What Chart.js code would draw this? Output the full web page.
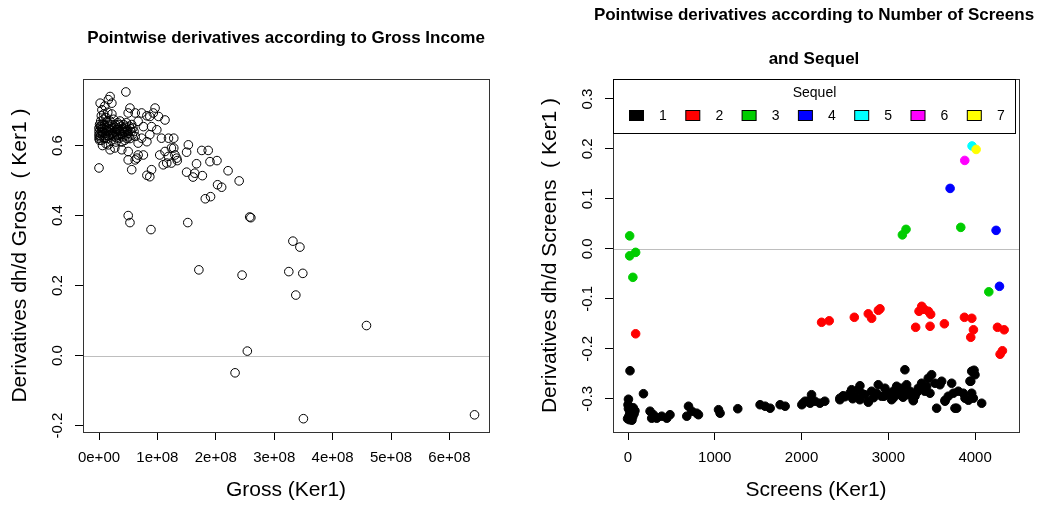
<!DOCTYPE html>
<html>
<head>
<meta charset="utf-8">
<script src="https://cdn.jsdelivr.net/npm/chart.js@4.4.0/dist/chart.umd.min.js"></script>
<style>
html, body { margin: 0; padding: 0; background: #fff; }
#wrap { position: relative; width: 1040px; height: 506px; }
#wrap canvas { position: absolute; top: 0; }
</style>
</head>
<body>
<div id="wrap">
  <canvas id="grossChart" width="520" height="506" style="left:0"></canvas>
  <canvas id="screensChart" width="520" height="506" style="left:520px"></canvas>
</div>
<script>
// gross in millions of dollars, derivative dh/d Gross
const grossPoints = [
    [46,0.753],[0,0.536],[50,0.40],[53,0.38],[89,0.36],[152,0.38],[171,0.245],[258,0.396],[260,0.394],
    [245,0.23],[233,-0.049],[254,0.013],[332,0.327],[344,0.31],[325,0.24],[349,0.235],[337,0.173],
    [350,-0.18],[458,0.086],[643,-0.169],
    [128,0.621],[128,0.593],[130,0.573],[133,0.564],[134,0.557],[153,0.602],[150,0.581],[176,0.586],
    [187,0.586],[190,0.554],[202,0.557],[167,0.548],[150,0.524],[164,0.521],[161,0.510],[177,0.514],
    [221,0.528],[240,0.499],[203,0.488],[210,0.481],[182,0.448],[191,0.454],
    [19,0.74],[16,0.731],[22,0.721],[2,0.721],[10,0.713],[5,0.702],[53,0.707],[62,0.693],[50,0.693],
    [73,0.693],[82,0.685],[96,0.707],[93,0.693],[113,0.673],[102,0.683],[87,0.683],[67,0.669],[76,0.654],
    [90,0.654],[99,0.645],[87,0.631],[107,0.621],[119,0.621],[73,0.621],[82,0.611],[62,0.626],[67,0.607],
    [16,0.602],[27,0.593],[39,0.588],[50,0.583],[19,0.588],[67,0.573],[76,0.573],[62,0.559],[65,0.564],
    [50,0.559],[56,0.531],[90,0.531],[87,0.511],[124,0.593],[113,0.583],[119,0.569],[104,0.573],
    [116,0.550],[110,0.545],[124,0.550],[82,0.515],
    [0,0.62],[0,0.63],[0,0.64],[0,0.65],[1,0.66],[1,0.625],[2,0.635],[2,0.645],[3,0.655],[3,0.67],
    [4,0.615],[5,0.64],[5,0.66],[6,0.63],[7,0.65],[8,0.675],[9,0.62],[10,0.645],[10,0.66],[11,0.635],
    [12,0.68],[13,0.65],[14,0.62],[15,0.665],[16,0.64],[17,0.655],[18,0.63],[19,0.67],[20,0.645],
    [21,0.615],[22,0.66],[23,0.635],[24,0.65],[25,0.675],[26,0.625],[27,0.64],[28,0.66],[29,0.61],
    [30,0.645],[31,0.63],[32,0.665],[33,0.65],[34,0.62],[35,0.64],[36,0.67],[37,0.635],[38,0.655],
    [39,0.61],[40,0.645],[41,0.625],[42,0.66],[43,0.64],[44,0.615],[45,0.65],[46,0.63],[47,0.665],
    [48,0.62],[49,0.645],[50,0.635],[52,0.655],[53,0.62],[55,0.64],[57,0.63],[58,0.65],[6,0.60],
    [12,0.605],[8,0.69],[15,0.695],[4,0.685],[22,0.69],
    [1,0.615],[2,0.655],[3,0.628],[5,0.648],[7,0.638],[9,0.658],[11,0.622],[13,0.642],[14,0.668],
    [16,0.628],[18,0.648],[20,0.632],[22,0.642],[24,0.628],[26,0.655],[28,0.638],[30,0.622],[32,0.645],
    [34,0.66],[36,0.628],[38,0.642],[40,0.632],[42,0.648],[44,0.638],[46,0.655],[48,0.64],[51,0.625],
    [54,0.648],[56,0.66],[60,0.64]
];

// screens, derivative dh/d Screens, one array per Sequel value
const sequel1 = [
    [23,-0.244],[5,-0.301],[178,-0.290],
    [5,-0.320],[10,-0.335],[15,-0.342],[20,-0.328],[25,-0.338],[30,-0.322],[35,-0.332],[40,-0.340],
    [50,-0.326],[55,-0.336],[60,-0.318],[70,-0.330],[80,-0.324],[-5,-0.340],[0,-0.312],[45,-0.343],
    [254,-0.325],[293,-0.332],[331,-0.339],[389,-0.335],[447,-0.339],[484,-0.332],[273,-0.339],
    [697,-0.315],[735,-0.325],[677,-0.335],[792,-0.329],[812,-0.332],
    [1043,-0.322],[1061,-0.329],[1265,-0.320],
    [1522,-0.312],[1580,-0.315],[1638,-0.319],[1753,-0.312],[1811,-0.315],
    [2003,-0.312],[2041,-0.305],[2099,-0.309],
    [2018,-0.309],[2076,-0.305],[2115,-0.292],[2153,-0.305],[2211,-0.309],[2268,-0.305],
    [2442,-0.299],[2480,-0.294],[2557,-0.289],[2615,-0.295],[2653,-0.282],[2672,-0.302],[2730,-0.292],
    [2768,-0.305],[2807,-0.285],[2865,-0.289],[2884,-0.272],[2922,-0.295],[2961,-0.279],[2999,-0.289],
    [3038,-0.302],[3057,-0.285],[3096,-0.275],[3134,-0.292],[3153,-0.279],[3191,-0.289],[3211,-0.272],
    [3249,-0.285],[3287,-0.302],[3307,-0.295],[3345,-0.279],[3384,-0.269],[3442,-0.275],[3460,-0.259],
    [3499,-0.252],[3480,-0.289],[3537,-0.269],[3595,-0.272],[3615,-0.265],[3557,-0.319],[3653,-0.305],
    [3691,-0.295],[3730,-0.269],[3749,-0.289],[3768,-0.319],[3806,-0.285],[3864,-0.289],[3884,-0.299],
    [3941,-0.265],[3961,-0.289],[3980,-0.299],[3961,-0.245],[3999,-0.252],[4076,-0.309],[3191,-0.242],
    [2442,-0.302],[2577,-0.282],[2673,-0.274],[2769,-0.307],[3000,-0.292],[3115,-0.279],[3288,-0.304],
    [3654,-0.303],[3788,-0.319],[3923,-0.303],[3950,-0.265],[3988,-0.243],
    [2500,-0.296],[2590,-0.300],[2700,-0.290],[2830,-0.298],[2950,-0.295],[3060,-0.298],[3170,-0.297],
    [3230,-0.292],[3330,-0.287],[3420,-0.285]
];
const sequel2 = [
    [88,-0.170],[2231,-0.147],[2319,-0.144],[2608,-0.137],[2769,-0.130],[2808,-0.139],[2885,-0.123],
    [2904,-0.120],[3315,-0.157],[3354,-0.125],[3385,-0.115],[3412,-0.121],[3462,-0.125],[3488,-0.131],
    [3481,-0.155],[3646,-0.150],[3877,-0.137],[3962,-0.139],[3981,-0.162],[3950,-0.177],[4258,-0.157],
    [4335,-0.162],[4288,-0.211],[4315,-0.204]
];
const sequel3 = [[19,0.026],[19,-0.014],[88,-0.007],[56,-0.057],[3162,0.028],[3204,0.039],[3835,0.043],[4158,-0.086]];
const sequel4 = [[3712,0.121],[4242,0.037],[4281,-0.075]];
const sequel5 = [[3965,0.206]];
const sequel6 = [[3881,0.177]];
const sequel7 = [[4012,0.199]];

const sequelLabels = ['1', '2', '3', '4', '5', '6', '7'];
const sequelData = [sequel1, sequel2, sequel3, sequel4, sequel5, sequel6, sequel7];
const sequelColors = ['#000000', '#FF0000', '#00CD00', '#0000FF', '#00FFFF', '#FF00FF', '#FFFF00'];

// tick positions
const grossTicks = [0, 100, 200, 300, 400, 500, 600];
const derivGrossTicks = [-0.2, 0.0, 0.2, 0.4, 0.6];
const screensTicks = [0, 1000, 2000, 3000, 4000];
const derivScreensTicks = [-0.3, -0.2, -0.1, 0.0, 0.1, 0.2, 0.3];

const FONT = '"Liberation Sans", Arial, Helvetica, sans-serif';
Chart.defaults.font.family = FONT;
Chart.defaults.color = '#000';

function toXY(arr) {
    return arr.map(p => ({x: p[0], y: p[1]}));
}

// R style scientific labels: 0e+00, 1e+08 ...
function sciLabel(millions) {
    const n = millions * 1e6;
    if (Math.abs(n) < 1) return '0e+00';
    const e = Math.floor(Math.log10(Math.abs(n)) + 1e-9);
    const m = Math.round(n / Math.pow(10, e));
    return m + 'e+' + String(e).padStart(2, '0');
}

// box, zero line, titles, rotated y labels, optional legend
function rPlotPlugin(cfg) {
    return {
        id: 'rplot',
        beforeDatasetsDraw(chart) {
            const {ctx, chartArea, scales} = chart;
            const y0 = Math.round(scales.y.getPixelForValue(0)) + 0.5;
            ctx.save();
            ctx.strokeStyle = '#bebebe';
            ctx.lineWidth = 1;
            ctx.beginPath();
            ctx.moveTo(chartArea.left, y0);
            ctx.lineTo(chartArea.right, y0);
            ctx.stroke();
            ctx.restore();
        },
        afterDraw(chart) {
            const {ctx, chartArea, scales} = chart;
            const ys = scales.y;
            ctx.save();
            // box
            ctx.strokeStyle = '#333';
            ctx.lineWidth = 1;
            ctx.strokeRect(Math.round(chartArea.left) + 0.5, Math.round(chartArea.top) + 0.5,
                Math.round(chartArea.right - chartArea.left), Math.round(chartArea.bottom - chartArea.top));

            // y tick labels, rotated as in R
            ctx.fillStyle = '#000';
            ctx.font = '15px ' + FONT;
            ctx.textAlign = 'center';
            ctx.textBaseline = 'alphabetic';
            ys.ticks.forEach(t => {
                const v = Math.abs(t.value) < 1e-9 ? 0 : t.value;
                ctx.save();
                ctx.translate(chartArea.left - 21.5, ys.getPixelForValue(t.value));
                ctx.rotate(-Math.PI / 2);
                ctx.fillText(v.toFixed(1), 0, 0);
                ctx.restore();
            });

            // main title
            ctx.font = 'bold 17px ' + FONT;
            const cx = (chartArea.left + chartArea.right) / 2 + (cfg.titleShift || 0);
            cfg.title.forEach((line, i) => {
                ctx.fillText(line, cx, cfg.titleY[i]);
            });

            // legend
            if (cfg.legend) {
                const lg = cfg.legend;
                const lx = Math.round(chartArea.left) + 0.5;
                const ly = Math.round(chartArea.top) + 0.5;
                ctx.fillStyle = '#fff';
                ctx.fillRect(lx, ly, lg.width, lg.height);
                ctx.strokeStyle = '#000';
                ctx.strokeRect(lx, ly, lg.width, lg.height);
                ctx.fillStyle = '#000';
                ctx.font = '14px ' + FONT;
                ctx.textBaseline = 'middle';
                ctx.fillText('Sequel', lx + lg.width / 2, ly + 13.5);
                chart.data.datasets.forEach((ds, i) => {
                    const bx = lx + 16 + i * lg.step;
                    ctx.fillStyle = ds.backgroundColor;
                    ctx.fillRect(bx, ly + 31, 14, 10);
                    ctx.strokeStyle = '#000';
                    ctx.strokeRect(bx, ly + 31, 14, 10);
                    ctx.fillStyle = '#000';
                    ctx.fillText(ds.label, bx + 33.5, ly + 37);
                });
            }
            ctx.restore();
        }
    };
}

function axisOpts(min, max, tickValues, title, fit, titlePad, tickCb, tickColor) {
    return {
        type: 'linear',
        min: min,
        max: max,
        afterFit: fit,
        afterBuildTicks: scale => { scale.ticks = tickValues.map(v => ({value: v})); },
        ticks: {
            autoSkip: false,
            maxRotation: 0,
            padding: 9,
            color: tickColor || '#000',
            font: {size: 15},
            callback: tickCb
        },
        grid: {
            drawOnChartArea: false,
            drawTicks: true,
            tickLength: 8,
            color: '#000',
            lineWidth: 1
        },
        border: {display: true, color: '#333'},
        title: {
            display: true,
            text: title,
            color: '#000',
            font: {size: 21},
            padding: titlePad
        }
    };
}

new Chart(document.getElementById('grossChart'), {
    type: 'scatter',
    data: {
        datasets: [{
            label: 'Gross',
            data: toXY(grossPoints),
            pointStyle: 'circle',
            pointRadius: 4.3,
            backgroundColor: 'rgba(0,0,0,0)',
            borderColor: '#000',
            borderWidth: 1
        }]
    },
    options: {
        responsive: false,
        animation: false,
        layout: {padding: {left: 0, right: 31, top: 79, bottom: 0}},
        plugins: {legend: {display: false}, tooltip: {enabled: false}},
        scales: {
            x: axisOpts(-27.4, 667.8, grossTicks, 'Gross (Ker1)', s => { s.height = 74; }, {top: 0, bottom: 3}, v => sciLabel(v)),
            y: axisOpts(-0.218, 0.79, derivGrossTicks, 'Derivatives dh/d Gross  ( Ker1 )', s => { s.width = 83; }, {top: 8, bottom: 0}, v => v, 'rgba(0,0,0,0)')
        }
    },
    plugins: [rPlotPlugin({title: ['Pointwise derivatives according to Gross Income'], titleY: [42.5]})]
});

new Chart(document.getElementById('screensChart'), {
    type: 'scatter',
    data: {
        datasets: sequelData.map((pts, i) => ({
            label: sequelLabels[i],
            data: toXY(pts),
            order: sequelData.length - i,
            pointStyle: 'circle',
            pointRadius: 4.3,
            backgroundColor: sequelColors[i],
            borderColor: sequelColors[i],
            borderWidth: 1
        }))
    },
    options: {
        responsive: false,
        animation: false,
        layout: {padding: {left: 0, right: 21, top: 79, bottom: 0}},
        plugins: {legend: {display: false}, tooltip: {enabled: false}},
        scales: {
            x: axisOpts(-173, 4506, screensTicks, 'Screens (Ker1)', s => { s.height = 74; }, {top: 0, bottom: 3}, v => String(v)),
            y: axisOpts(-0.3666, 0.34, derivScreensTicks, 'Derivatives dh/d Screens  ( Ker1 )', s => { s.width = 93; }, {top: 18, bottom: 0}, v => v, 'rgba(0,0,0,0)')
        }
    },
    plugins: [rPlotPlugin({
        title: ['Pointwise derivatives according to Number of Screens', 'and Sequel'],
        titleY: [19.5, 63.5],
        titleShift: -2,
        legend: {width: 402, height: 54, step: 56.3}
    })]
});
</script>
</body>
</html>
